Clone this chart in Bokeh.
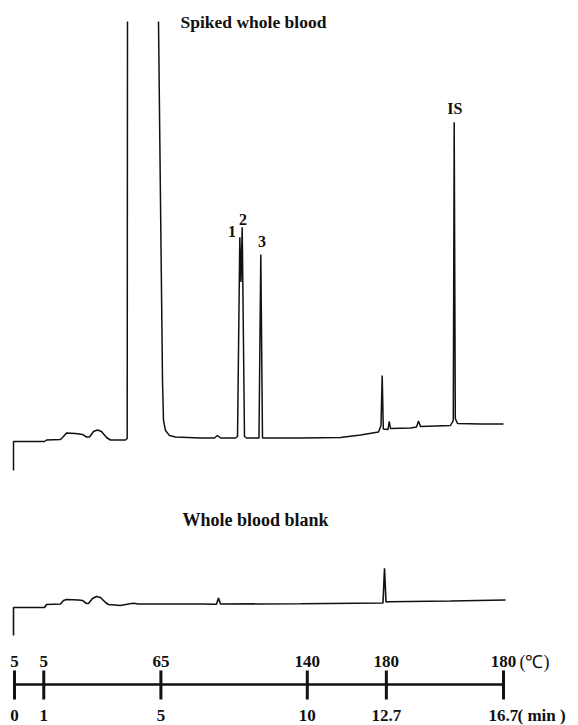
from bokeh.plotting import figure
from bokeh.models import Range1d
from bokeh.core.properties import value
from bokeh.embed import file_html
from bokeh.resources import INLINE
import numpy as np

# ---------------- data (time in min, signal in % of recorder full scale) ----------------
spiked_time = [-0.034, -0.034, 1.025, 1.093, 1.571, 1.674, 1.776, 2.083, 2.322, 2.459, 2.561,
               2.698, 2.835, 2.971, 3.142, 3.279, 3.791, 3.849, 3.859, np.nan,
               4.918, 4.986, 5.055, 5.089, 5.157, 5.294, 5.499, 6.352, 6.831, 6.933, 7.036,
               7.548, 7.617, 7.695, 7.735, 7.777, 7.855, 7.923, 8.350, 8.412, 8.470, 9.768,
               11.134, 11.817, 12.432, 12.517, 12.558, 12.596, 12.756, 12.797, 12.842, 13.525,
               13.730, 13.798, 13.866, 14.891, 14.986, 15.017, 15.055, 15.130, 15.915, 16.701]
spiked_signal = [-6.90, 0.0, 0.0, 0.36, 0.48, 1.19, 2.02, 1.90, 1.67, 1.07, 1.07,
                 2.38, 2.74, 2.38, 0.95, 0.36, 0.36, 0.71, 100.0, np.nan,
                 100.0, 57.4, 14.5, 5.0, 2.62, 1.43, 1.07, 0.83, 0.83, 1.43, 0.83,
                 0.83, 1.19, 48.64, 38.0, 51.02, 1.19, 0.83, 0.83, 44.52, 0.83, 0.83,
                 0.95, 1.55, 2.26, 3.81, 15.71, 2.98, 2.86, 4.76, 3.10, 3.21,
                 3.45, 4.88, 3.57, 3.81, 5.0, 76.02, 5.48, 4.29, 4.17, 4.17]

blank_time = [-0.034, -0.034, 1.025, 1.093, 1.571, 1.674, 1.776, 2.186, 2.322, 2.459, 2.527,
              2.664, 2.801, 2.937, 3.108, 3.210, 3.620, 3.893, 4.064, 4.235, 6.352, 6.899,
              6.967, 7.036, 9.768, 12.585, 12.637, 12.688, 12.773, 14.891, 16.769]
blank_signal = [-6.67, 0.0, 0.0, 0.71, 0.83, 1.67, 1.90, 1.79, 1.67, 0.95, 0.95,
                2.14, 2.62, 2.38, 1.19, 0.71, 0.48, 0.83, 1.02, 0.83, 0.83, 0.79,
                2.26, 0.83, 0.88, 1.07, 9.36, 1.31, 1.36, 1.55, 1.79]

peak_labels = ["1", "2", "3", "IS"]
peak_label_time = [7.43, 7.80, 8.45, 15.04]
peak_label_signal = [50.0, 52.9, 47.7, 79.3]

program_time = [0, 1, 5, 10, 12.7, 16.7]
program_temp = [5, 5, 65, 140, 180, 180]
time_tick_labels = ["0", "1", "5", "10", "12.7", "16.7"]
temp_tick_labels = [str(v) for v in program_temp]

# ---------------- figure ----------------
PX_PER_MIN = 29.28
X0 = 14.0
W, H = 578, 725
p = figure(width=W, height=H, output_backend="svg", toolbar_location=None,
           x_range=Range1d(-X0 / PX_PER_MIN, (W - X0) / PX_PER_MIN),
           y_range=Range1d(H, 0), min_border=0)
p.extra_y_ranges = {
    "spiked": Range1d((441 - H) / 4.2, 441 / 4.2),
    "blank": Range1d((607 - H) / 4.2, 607 / 4.2),
}
p.xaxis.visible = False
p.yaxis.visible = False
p.xgrid.visible = False
p.ygrid.visible = False
p.outline_line_color = None
p.background_fill_color = "white"
p.border_fill_color = "white"

INK = "#111111"
SERIF = value("Liberation Serif")

p.line(spiked_time, spiked_signal, y_range_name="spiked", line_color=INK, line_width=1.5)
p.line(blank_time, blank_signal, y_range_name="blank", line_color=INK, line_width=1.6)

p.text(x=peak_label_time, y=peak_label_signal, text=peak_labels, y_range_name="spiked",
       text_font=SERIF, text_font_style="bold", text_font_size="16px",
       text_align="center", text_baseline="alphabetic", text_color=INK)

# titles
p.text(x=[(180 - X0) / PX_PER_MIN], y=[21.5], text=["Spiked whole blood"],
       text_font=SERIF, text_font_style="bold", text_font_size="17.5px",
       text_align="left", text_baseline="alphabetic", text_color=INK)
p.text(x=[(182 - X0) / PX_PER_MIN], y=[519], text=["Whole blood blank"],
       text_font=SERIF, text_font_style="bold", text_font_size="18px",
       text_align="left", text_baseline="alphabetic", text_color=INK)

# temperature program bar
p.line(x=[program_time[0], program_time[-1]], y=[684, 684], line_color=INK, line_width=2.5)
p.segment(x0=program_time, y0=[670] * len(program_time), x1=program_time,
          y1=[699] * len(program_time), line_color=INK, line_width=3)
p.text(x=program_time, y=[661] * len(program_time), text=temp_tick_labels,
       text_font=SERIF, text_font_style="bold", text_font_size="17px",
       text_align="center", text_baseline="alphabetic", text_color=INK)
p.text(x=program_time, y=[715] * len(program_time), text=time_tick_labels,
       text_font=SERIF, text_font_style="bold", text_font_size="17px",
       text_align="center", text_baseline="alphabetic", text_color=INK)
p.text(x=[(519 - X0) / PX_PER_MIN], y=[661], text=["(℃)"],
       text_font=SERIF, text_font_size="18px",
       text_align="left", text_baseline="alphabetic", text_color=INK)
p.text(x=[(517 - X0) / PX_PER_MIN], y=[715], text=["( min )"],
       text_font=SERIF, text_font_style="bold", text_font_size="17px",
       text_align="left", text_baseline="alphabetic", text_color=INK)

open("out.html", "w").write(file_html(p, INLINE))
